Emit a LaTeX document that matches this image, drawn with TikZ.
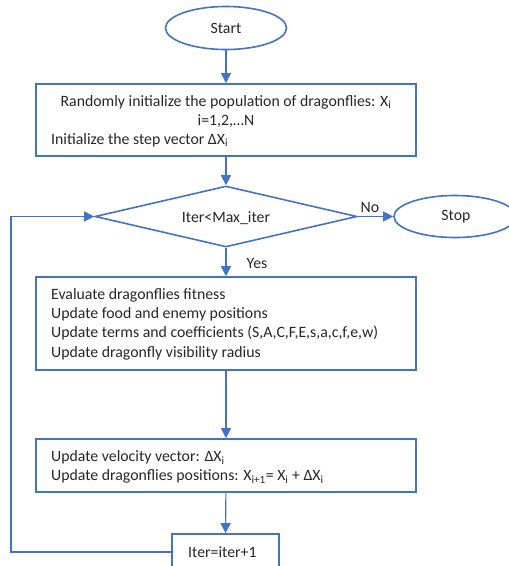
\documentclass[tikz,border=0pt]{standalone}
\usepackage{fontspec}
\setmainfont{Carlito}
\usetikzlibrary{shapes.geometric,arrows.meta}
\definecolor{fcblue}{HTML}{4472C4}
\begin{document}
\begin{tikzpicture}[x=1pt,y=-1pt,
  every node/.style={font=\fontsize{15.8}{19.3}\selectfont, text=black!85},
  box/.style={draw=fcblue, line width=1.6pt, rectangle, inner sep=0pt},
  term/.style={draw=fcblue, line width=1.6pt, ellipse, inner sep=0pt},
  dec/.style={draw=fcblue, line width=1.6pt, diamond, inner sep=0pt},
  arr/.style={draw=fcblue, line width=1.1pt, -{Triangle[length=10pt,width=10pt]}},
  lbl/.style={inner sep=0pt}]
\useasboundingbox (0,0) rectangle (509,566);
\node[term, minimum width=121, minimum height=43] (start) at (226,28) {Start};
\node[box, minimum width=380, minimum height=72] (b1) at (226,120) {};
\node[lbl] (t1) at (226,102) {Randomly initialize the population of dragonflies: X\textsubscript{i}};
\node[lbl] (t2) at (226,121) {i=1,2,…N};
\node[lbl, anchor=west] (t3) at (51,140) {Initialize the step vector ΔX\textsubscript{i}};
\node[dec, minimum width=262, minimum height=61] (dia) at (226,216.5) {};
\node[lbl] (dt) at (226,218) {Iter<Max\_iter};
\node[term, minimum width=122, minimum height=42] (stop) at (455,216.5) {};
\node[lbl] (st) at (456,217) {Stop};
\node[box, minimum width=380, minimum height=93] (b2) at (226,323.5) {};
\node[lbl, anchor=west, align=left] (t4) at (51,324) {Evaluate dragonflies fitness\\Update food and enemy positions\\Update terms and coefficients (S,A,C,F,E,s,a,c,f,e,w)\\Update dragonfly visibility radius};
\node[box, minimum width=380, minimum height=53] (b3) at (226,465.5) {};
\node[lbl, anchor=west, align=left] (t5) at (51,467) {Update velocity vector: ΔX\textsubscript{i}\\Update dragonflies positions: X\textsubscript{i+1}= X\textsubscript{i} + ΔX\textsubscript{i}};
\node[box, minimum width=107, minimum height=36] (b4) at (225.5,552) {};
\node[lbl, anchor=west] (t6) at (188,552) {Iter=iter+1};
\node[lbl] (no) at (370,207) {No};
\node[lbl] (yes) at (257,263) {Yes};
\coordinate (lp) at (11,552);
\draw[arr] (start) -- (b1);
\draw[arr] (b1) -- (dia);
\draw[arr] (dia) -- (stop);
\draw[arr] (dia) -- (b2);
\draw[arr] (b2) -- (b3);
\draw[arr] (b3) -- (b4);
\draw[arr] (b4.west) -- (lp) |- (dia.west);
\end{tikzpicture}
\end{document}
